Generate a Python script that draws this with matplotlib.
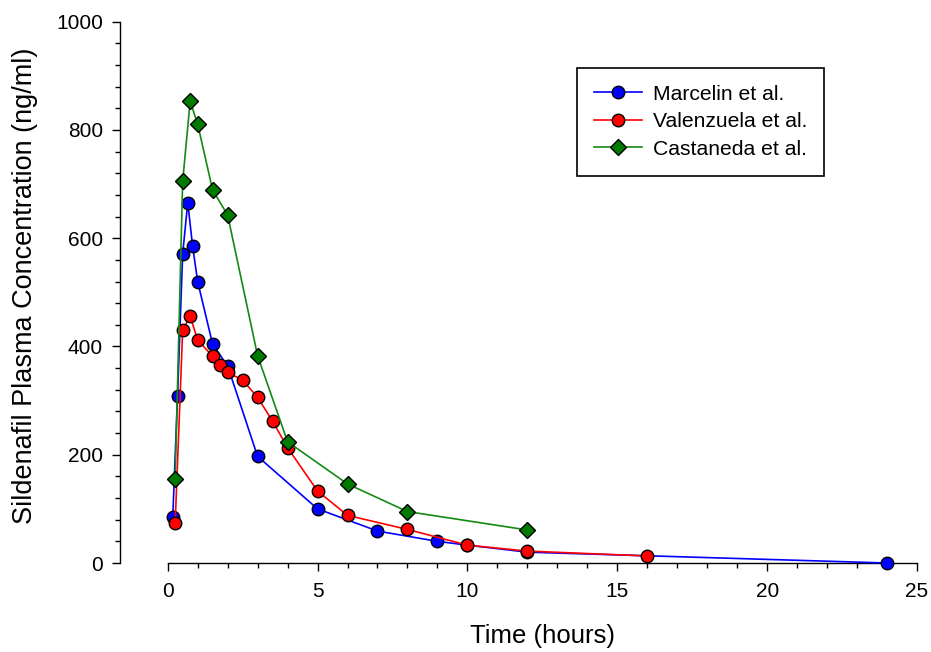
import matplotlib
matplotlib.use('Agg')
import matplotlib.pyplot as plt
from matplotlib.ticker import MultipleLocator

plt.rcParams['font.family'] = ['Liberation Sans', 'DejaVu Sans']

# Marcelin et al.
t_marcelin = [0.17, 0.33, 0.5, 0.67, 0.83, 1, 1.5, 2, 3, 5, 7, 9, 10, 12, 24]
c_marcelin = [85, 309, 571, 666, 586, 520, 404, 364, 197, 100, 59, 40, 33, 20, 0]

# Valenzuela et al.
t_valenzuela = [0.25, 0.5, 0.75, 1, 1.5, 1.75, 2, 2.5, 3, 3.5, 4, 5, 6, 8, 10, 12, 16]
c_valenzuela = [73, 430, 456, 412, 382, 365, 352, 338, 306, 262, 213, 133, 88, 62, 33, 22, 13]

# Castaneda et al.
t_castaneda = [0.25, 0.5, 0.75, 1, 1.5, 2, 3, 4, 6, 8, 12]
c_castaneda = [155, 705, 853, 811, 689, 643, 383, 224, 146, 95, 61]

fig = plt.figure(figsize=(9.31, 6.52), dpi=100)
ax = fig.add_axes([0.1801, 0.1365, 0.8049, 0.8302])

ax.plot(t_marcelin, c_marcelin, color='#0000ff', lw=1.2, marker='o', ms=9,
        mfc='#0000ff', mec='black', mew=1.0, label='Marcelin et al.', clip_on=False, zorder=3)
ax.plot(t_valenzuela, c_valenzuela, color='#ff0000', lw=1.2, marker='o', ms=9,
        mfc='#ff0000', mec='black', mew=1.0, label='Valenzuela et al.', clip_on=False, zorder=4)
ax.plot(t_castaneda, c_castaneda, color='#138a13', lw=1.2, marker='D', ms=8,
        mfc='#007a00', mec='black', mew=1.0, label='Castaneda et al.', clip_on=False, zorder=5)

ax.set_xlim(0, 25)
ax.set_ylim(0, 1000)
ax.xaxis.set_major_locator(MultipleLocator(5))
ax.xaxis.set_minor_locator(MultipleLocator(1))
ax.yaxis.set_major_locator(MultipleLocator(200))
ax.yaxis.set_minor_locator(MultipleLocator(40))

ax.spines['top'].set_visible(False)
ax.spines['right'].set_visible(False)
ax.spines['left'].set_position(('outward', 34.5))
ax.spines['left'].set_linewidth(1.0)
ax.spines['bottom'].set_linewidth(1.0)

ax.tick_params(which='major', direction='out', length=6, width=1.0, labelsize=15)
ax.tick_params(which='minor', direction='out', length=3.5, width=1.0)
ax.tick_params(axis='x', which='major', pad=8)
ax.tick_params(axis='y', which='major', pad=6)

ax.set_xlabel('Time (hours)', fontsize=18.5, labelpad=16)
ax.set_ylabel('Sildenafil Plasma Concentration (ng/ml)', fontsize=19.5, labelpad=13)
ax.yaxis.label.set_y(0.512)

leg = ax.legend(loc='upper left', bbox_to_anchor=(0.546, 0.9145), fontsize=15.2,
                fancybox=False, edgecolor='black', framealpha=1, borderaxespad=0,
                handlelength=2.3, borderpad=0.8, labelspacing=0.4, handletextpad=0.5)
leg.get_frame().set_linewidth(1.2)

fig.savefig('out.png', dpi=100)
